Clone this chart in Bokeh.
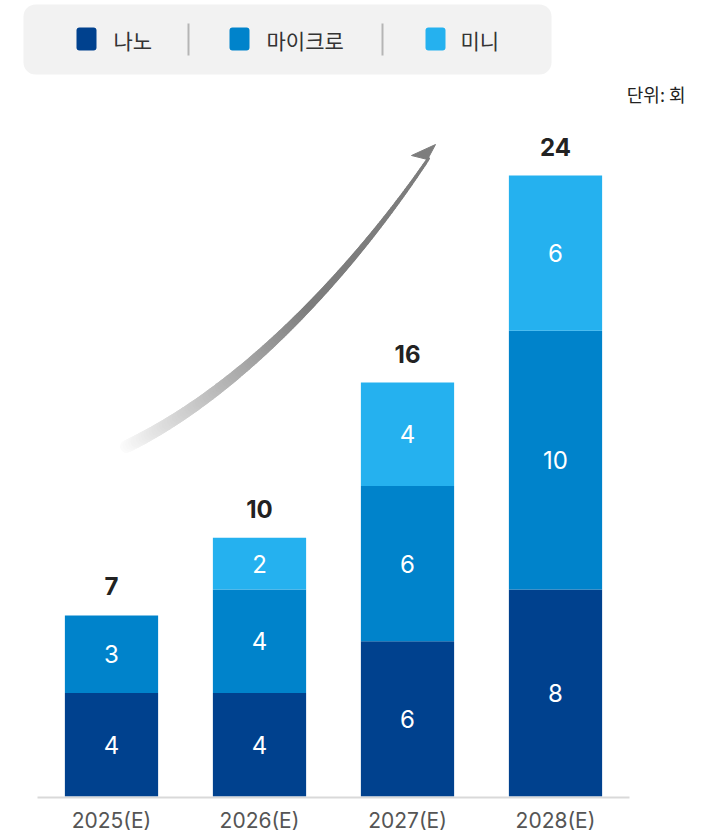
import numpy as np
from bokeh.plotting import figure
from bokeh.models import ColumnDataSource, Range1d, FixedTicker, BoxAnnotation
from bokeh.core.properties import value
from bokeh.embed import file_html
from bokeh.resources import INLINE

# ---------------- data ----------------
years = ["2025(E)", "2026(E)", "2027(E)", "2028(E)"]
series = ["나노", "마이크로", "미니"]
nano = [4, 4, 6, 8]
micro = [3, 4, 6, 10]
mini = [0, 2, 4, 6]
colors = ["#00418e", "#0083cb", "#25b1ef"]
unit_label = "단위: 회"

# ---------------- layout helpers (page pixel -> data) ----------------
W, H = 705, 839
BOTTOM = 40
FRAME_BOTTOM = H - BOTTOM          # page px of frame bottom
X0, SX = 111.0, 148.0              # page px of first category, px per category
Y0, SY = 796.0, 25.875             # page px of value 0, px per unit

def dx(px):
    return (px - X0) / SX

def dy(py):
    return (Y0 - py) / SY

KR = value("Noto Sans CJK KR")
NUM = value("Inter")

p = figure(width=W, height=H, output_backend="svg", toolbar_location=None,
           x_range=Range1d(dx(0), dx(W)), y_range=Range1d(dy(FRAME_BOTTOM), dy(0)),
           y_axis_location=None, min_border_left=0, min_border_right=0,
           min_border_top=0, min_border_bottom=BOTTOM)
p.outline_line_color = None
p.xgrid.visible = False
p.ygrid.visible = False
p.background_fill_color = "white"
p.border_fill_color = "white"

xs = list(range(len(years)))
src = ColumnDataSource(dict(x=xs, nano=nano, micro=micro, mini=mini))
p.vbar_stack(["nano", "micro", "mini"], x="x", width=0.63, color=colors,
             line_color=None, source=src)

# baseline
p.segment(x0=[dx(37)], y0=[dy(797)], x1=[dx(629)], y1=[dy(797)],
          line_color="#d9d9d9", line_width=2)

# segment labels
lx, ly, lt = [], [], []
stack = np.zeros(len(years))
for vals in (nano, micro, mini):
    v = np.array(vals, dtype=float)
    for i in range(len(years)):
        if v[i] > 0:
            lx.append(xs[i]); ly.append(stack[i] + v[i] / 2); lt.append(str(int(v[i])))
    stack = stack + v
p.text(x=lx, y=ly, text=lt, text_align="center", text_baseline="middle",
       text_color="white", text_font=NUM, text_font_size="24px")

# totals
totals = [int(t) for t in stack]
p.text(x=xs, y=totals, text=[str(t) for t in totals], y_offset=-29,
       text_align="center", text_baseline="middle", text_color="#222222",
       text_font=NUM, text_font_size="24px", text_font_style="bold")

# x axis
p.xaxis.ticker = FixedTicker(ticks=xs)
p.xaxis.major_label_overrides = {i: y for i, y in zip(xs, years)}
p.xaxis.axis_line_color = None
p.xaxis.major_tick_line_color = None
p.xaxis.minor_tick_line_color = None
p.xaxis.major_tick_out = 0
p.xaxis.major_tick_in = 0
p.xaxis.major_label_standoff = 8
p.xaxis.major_label_text_font = "Inter"
p.xaxis.major_label_text_font_size = "21px"
p.xaxis.major_label_text_color = "#555555"

# legend box
p.add_layout(BoxAnnotation(left=dx(23), right=dx(551), bottom=dy(74), top=dy(4),
                           fill_color="#f2f2f2", fill_alpha=1, line_color=None,
                           border_radius=12, level="underlay"))
sw_left = [76, 229, 425]
txt_left = [113, 266, 460]
for i, name in enumerate(series):
    p.add_layout(BoxAnnotation(left=dx(sw_left[i]), right=dx(sw_left[i] + 20),
                               bottom=dy(50), top=dy(27), fill_color=colors[i],
                               fill_alpha=1, line_color=None, border_radius=3))
p.text(x=[dx(t) for t in txt_left], y=[dy(39)] * 3, text=series,
       text_align="left", text_baseline="middle", text_color="#333333",
       text_font=KR, text_font_size="21px")
p.segment(x0=[dx(188), dx(382)], y0=[dy(23)] * 2, x1=[dx(188), dx(382)], y1=[dy(55)] * 2,
          line_color="#b5b5b5", line_width=2)

# unit label
p.text(x=[dx(685)], y=[dy(93)], text=[unit_label], text_align="right",
       text_baseline="middle", text_color="#222222", text_font=KR,
       text_font_size="18px")

# growth arrow (decorative bezier ribbon)
P0 = np.array([126.0, 446.0]); P1 = np.array([246.0, 388.0])
P2 = np.array([358.0, 262.0]); P3 = np.array([428.0, 158.0])
t = np.linspace(0, 1, 140)
pts = ((1 - t)[:, None] ** 3 * P0 + 3 * ((1 - t) ** 2 * t)[:, None] * P1
       + 3 * ((1 - t) * t ** 2)[:, None] * P2 + (t ** 3)[:, None] * P3)
tm = (t[:-1] + t[1:]) / 2
k = np.clip(tm / 0.55, 0, 1) ** 0.9
gray = np.array([125, 125, 125]); white = np.array([253, 253, 253])
cols = ["#%02x%02x%02x" % tuple((white + (gray - white) * kk).astype(int)) for kk in k]
widths = list(13 * (1 - tm) + 3 * tm)
p.segment(x0=[dx(v) for v in pts[:-1, 0]], y0=[dy(v) for v in pts[:-1, 1]],
          x1=[dx(v) for v in pts[1:, 0]], y1=[dy(v) for v in pts[1:, 1]],
          line_color=cols, line_width=widths, line_cap="round")
head = [(435, 144), (411, 155), (427, 159)]
p.patch(x=[dx(a) for a, b in head], y=[dy(b) for a, b in head],
        fill_color="#7d7d7d", line_color="#7d7d7d", line_width=1)

open("out.html", "w").write(file_html(p, INLINE))
